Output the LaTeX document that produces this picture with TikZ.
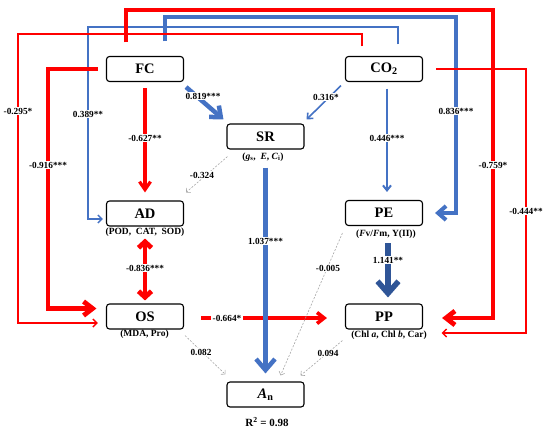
\documentclass[tikz,border=0pt]{standalone}
\usepackage{fontspec}
\setmainfont{Liberation Serif}
\usetikzlibrary{arrows.meta}
\definecolor{cred}{HTML}{FF0000}
\definecolor{cblue}{HTML}{4472C4}
\definecolor{cdark}{HTML}{2F5597}
\definecolor{cgrey}{HTML}{A6A6A6}
\tikzset{
  box/.style={draw=black, line width=1.1pt, rounded corners=3pt, minimum width=77pt, minimum height=25pt, inner sep=0pt, font=\fontsize{14.5}{16}\selectfont\bfseries},
  subt/.style={inner sep=0pt, font=\fontsize{9.5}{11}\selectfont\bfseries},
  lab/.style={fill=white, inner sep=1.2pt, font=\fontsize{9.3}{10}\selectfont\bfseries},
  rthick/.style={draw=cred, line width=4.8pt, -{Straight Barb[length=9pt,width=14pt]}},
  rthin/.style={draw=cred, line width=1.4pt, -{Straight Barb[length=4pt,width=8pt]}},
  bthin/.style={draw=cblue, line width=1.4pt, -{Straight Barb[length=4pt,width=8pt]}},
  bthick/.style={draw=cblue, line width=4pt, -{Straight Barb[length=8pt,width=14pt]}},
  gdash/.style={draw=cgrey, line width=0.6pt, dash pattern=on 2pt off 1.5pt, -{Straight Barb[length=3pt,width=6pt]}},
}
\begin{document}
\begin{tikzpicture}[x=1pt,y=-1pt]
\useasboundingbox (0,0) rectangle (550,432);
% nodes
\node[box] (FC) at (145,69) {FC};
\node[box] (CO2) at (384,69) {CO\textsubscript{2}};
\node[box] (SR) at (265.5,136.5) {SR};
\node[box] (AD) at (145,213.5) {AD};
\node[box] (PE) at (384,213) {PE};
\node[box] (OS) at (145,316.5) {OS};
\node[box] (PP) at (384,316.5) {PP};
\node[box] (An) at (265.5,394.5) {\textit{A}\textsubscript{n}};
\node[subt] (SRs) at (263,157) {(\textit{g}\textsubscript{s}, \ \textit{E}, \textit{C}\textsubscript{i})};
\node[subt] (ADs) at (145,232.5) {(POD,\ \ CAT,\ \ SOD)};
\node[subt] (OSs) at (144.5,334.5) {(MDA, Pro)};
\node[subt] (PEs) at (386,234) {(\textit{F}v/\textit{F}m, Y(II))};
\node[subt] (PPs) at (389,335) {(Chl \textit{a}, Chl \textit{b}, Car)};
\node[inner sep=0pt, font=\fontsize{11}{12}\selectfont\bfseries] (R2) at (267,422) {R\textsuperscript{2} = 0.98};

% long blue routes
\draw[bthin] ([xshift=14pt,yshift=11.5pt]CO2.north) |- (88,27) |- ([xshift=-3pt,yshift=-5.5pt]AD.west);
\draw[bthick] ([xshift=20pt,yshift=14.5pt]FC.north) |- (456,17) |- ([xshift=12pt]PE.east);
% long red routes
\draw[rthin] ([xshift=-22pt,yshift=9.5pt]CO2.north) |- (18,34) |- ([xshift=-8pt,yshift=-6.5pt]OS.west);
\draw[rthick] ([xshift=-19pt,yshift=13.5pt]FC.north) |- (493,10) |- ([xshift=19pt,yshift=-1.5pt]PP.east);
\draw[rthick] ([xshift=-8pt]FC.west) -| (48,200) |- ([xshift=-9.5pt,yshift=8pt]OS.west);
\draw[rthin] ([xshift=13pt]CO2.east) -| (526,200) |- ([xshift=18.5pt,yshift=-16.5pt]PP.east);

% inner connectors
\draw[draw=cred, line width=3.2pt, -{Straight Barb[length=8pt,width=11pt]}] ([yshift=-6pt]FC.south) -- ([yshift=8pt]AD.north);
\draw[draw=cblue, line width=4.5pt, -{Straight Barb[length=9pt,width=15pt]}] ([shift={(2pt,-5pt)}]FC.south east) -- ([shift={(-3pt,4pt)}]SR.north west);
\draw[draw=cblue, line width=1.6pt, -{Straight Barb[length=4.5pt,width=8pt]}] ([shift={(-4pt,-3.5pt)}]CO2.south west) -- ([shift={(2pt,4pt)}]SR.north east);
\draw[draw=cblue, line width=2pt, -{Straight Barb[length=5pt,width=8pt]}] ([xshift=3pt,yshift=-6.5pt]CO2.south) -- ([xshift=3pt,yshift=8pt]PE.north);
\draw[gdash] ([shift={(1pt,-7pt)}]SR.south west) -- ([shift={(2pt,8pt)}]AD.north east);
\draw[draw=cred, line width=4.8pt, {Straight Barb[length=6pt,width=13pt]}-{Straight Barb[length=6pt,width=13pt]}] ([yshift=-12pt]AD.south) -- ([yshift=3pt]OS.north);
\draw[draw=cred, line width=3.6pt, -{Straight Barb[length=7pt,width=11pt]}] ([xshift=17pt,yshift=-1.5pt]OS.east) -- ([xshift=-18pt,yshift=-1.5pt]PP.west);
\draw[draw=cblue, line width=4.5pt, -{Straight Barb[length=11pt,width=19pt]}] ([yshift=-18pt]SR.south) -- ([yshift=8pt]An.north);
\draw[draw=cdark, line width=5.5pt, -{Straight Barb[length=12pt,width=21pt]}] ([xshift=4pt,yshift=-17pt]PE.south) -- ([xshift=4pt,yshift=6pt]PP.north);
\draw[gdash] ([shift={(-2.5pt,-7pt)}]PE.south west) -- ([shift={(-24pt,6pt)}]An.north east);
\draw[gdash] ([shift={(1pt,-6pt)}]OS.south east) -- ([shift={(-1pt,7pt)}]An.north west);
\draw[gdash] ([shift={(-2.5pt,-11pt)}]PP.south west) -- ([shift={(-4pt,6pt)}]An.north east);

% labels
\node[lab] (l1) at (88,114) {0.389**};
\node[lab] (l2) at (456,111) {0.836***};
\node[lab] (l3) at (18,111) {-0.295*};
\node[lab] (l4) at (493,165) {-0.759*};
\node[lab] (l5) at (48,165) {-0.916***};
\node[lab] (l6) at (526,211) {-0.444**};
\node[lab] (l7) at (145,138) {-0.627**};
\node[lab] (l8) at (203,96) {0.819***};
\node[lab] (l9) at (326,97) {0.316*};
\node[lab] (l10) at (387,138) {0.446***};
\node[lab] (l11) at (202,175) {-0.324};
\node[lab] (l12) at (265.5,241) {1.037***};
\node[lab] (l13) at (145,268) {-0.836***};
\node[lab] (l14) at (227,318) {-0.664*};
\node[lab] (l15) at (388,260) {1.141**};
\node[lab] (l16) at (328,268) {-0.005};
\node[lab] (l17) at (201,352) {0.082};
\node[lab] (l18) at (328,353) {0.094};
\end{tikzpicture}
\end{document}
